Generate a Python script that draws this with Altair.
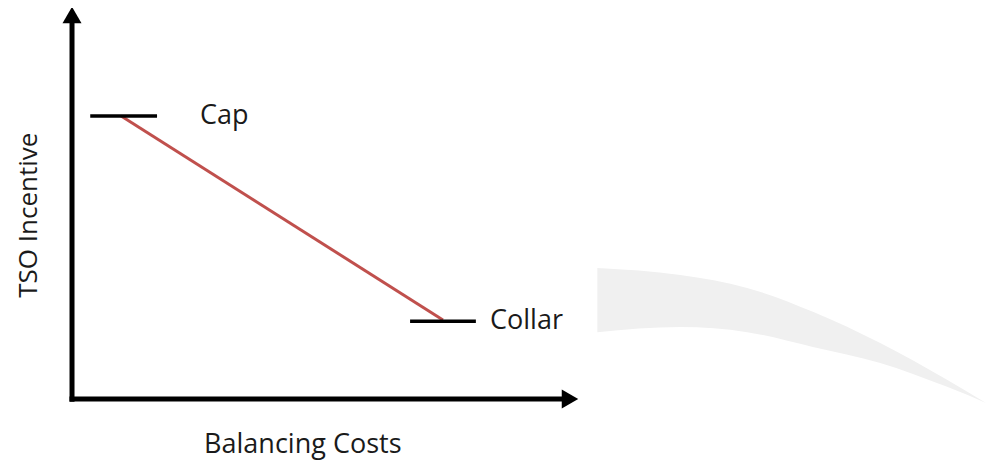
import altair as alt
import pandas as pd

# --- data (abstract units: origin of the axes at 0,0; arrow tips near 100) ---
axis_names = ["TSO Incentive", "Balancing Costs"]

level_names = ["Cap", "Collar"]
level_values = [72.4, 19.9]
level_x_start = [3.6, 66.8]
level_x_end = [16.8, 79.8]
label_x = [25.3, 82.6]

incentive_x = [9.7, 73.3]
incentive_y = [72.4, 20.2]

# decorative swoosh (top edge / bottom edge)
swoosh_x = [103.8, 120.2, 133.4, 146.4, 159.7, 172.9, 180.6]
swoosh_top = [33.5, 31.7, 28.4, 22.3, 14.3, 4.9, -1.0]
swoosh_bottom = [17.1, 18.4, 17.1, 13.3, 9.2, 3.1, -1.0]

X_DOMAIN = [-12.65, 180.6]
Y_DOMAIN = [-16.37, 100]

xs = alt.Scale(domain=X_DOMAIN, nice=False, zero=False)
ys = alt.Scale(domain=Y_DOMAIN, nice=False, zero=False)

swoosh_df = pd.DataFrame({"x": swoosh_x, "top": swoosh_top, "bottom": swoosh_bottom})
swoosh = alt.Chart(swoosh_df).mark_area(color="#f0f0f0", interpolate="monotone").encode(
    x=alt.X("x:Q", scale=xs, axis=None),
    y=alt.Y("top:Q", scale=ys, axis=None),
    y2="bottom:Q",
)

axes_df = pd.DataFrame({
    "x": [0.0, -0.5], "x2": [0.0, 97.0],
    "y": [-0.7, 0.0], "y2": [97.0, 0.0],
})
axes_rules = alt.Chart(axes_df).mark_rule(color="black", strokeWidth=5).encode(
    x=alt.X("x:Q", scale=xs, axis=None), x2="x2:Q",
    y=alt.Y("y:Q", scale=ys, axis=None), y2="y2:Q",
)

up_df = pd.DataFrame({"x": [0.0], "y": [98.2]})
arrow_up = alt.Chart(up_df).mark_point(shape="triangle-up", filled=True, size=361,
                                       color="black", opacity=1).encode(
    x=alt.X("x:Q", scale=xs, axis=None), y=alt.Y("y:Q", scale=ys, axis=None))
right_df = pd.DataFrame({"x": [98.4], "y": [0.0]})
arrow_right = alt.Chart(right_df).mark_point(shape="triangle-right", filled=True, size=361,
                                             color="black", opacity=1).encode(
    x=alt.X("x:Q", scale=xs, axis=None), y=alt.Y("y:Q", scale=ys, axis=None))

line_df = pd.DataFrame({"x": incentive_x, "y": incentive_y})
incentive = alt.Chart(line_df).mark_line(color="#c0504d", strokeWidth=3).encode(
    x=alt.X("x:Q", scale=xs, axis=None), y=alt.Y("y:Q", scale=ys, axis=None))

lv_df = pd.DataFrame({"name": level_names, "y": level_values,
                      "x": level_x_start, "x2": level_x_end, "lx": label_x})
levels = alt.Chart(lv_df).mark_rule(color="black", strokeWidth=3.5).encode(
    x=alt.X("x:Q", scale=xs, axis=None), x2="x2:Q",
    y=alt.Y("y:Q", scale=ys, axis=None))
level_labels = alt.Chart(lv_df).mark_text(align="left", baseline="middle", font="Open Sans",
                                          fontSize=27, color="#1a1a1a").encode(
    x=alt.X("lx:Q", scale=xs, axis=None), y=alt.Y("y:Q", scale=ys, axis=None), text="name:N")

yt_df = pd.DataFrame({"x": [-6.9], "y": [47.0], "t": [axis_names[0]]})
y_title = alt.Chart(yt_df).mark_text(angle=270, align="center", baseline="alphabetic",
                                     font="Open Sans", fontSize=26, color="#1a1a1a").encode(
    x=alt.X("x:Q", scale=xs, axis=None), y=alt.Y("y:Q", scale=ys, axis=None), text="t:N")
xt_df = pd.DataFrame({"x": [45.6], "y": [-13.8], "t": [axis_names[1]]})
x_title = alt.Chart(xt_df).mark_text(align="center", baseline="alphabetic",
                                     font="Open Sans", fontSize=27, color="#1a1a1a").encode(
    x=alt.X("x:Q", scale=xs, axis=None), y=alt.Y("y:Q", scale=ys, axis=None), text="t:N")

chart = alt.layer(
    swoosh, axes_rules, arrow_up, arrow_right, incentive, levels, level_labels, y_title, x_title
).properties(
    width=978, height=455, padding=0, autosize=alt.AutoSizeParams(type="none"),
    background="white",
).configure_view(strokeWidth=0)

chart.save("out.html", embed_options={"renderer": "svg", "actions": False})
